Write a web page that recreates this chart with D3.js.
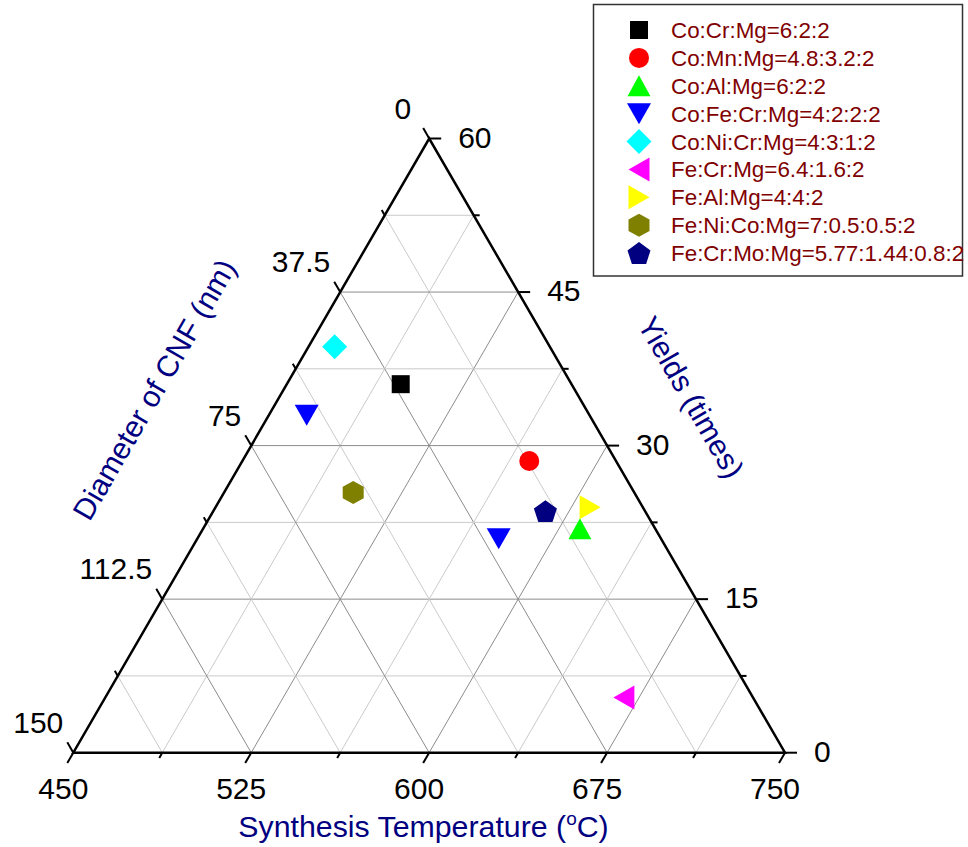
<!DOCTYPE html>
<html><head><meta charset="utf-8">
<script src="https://cdn.jsdelivr.net/npm/d3@7"></script>
<style>body{margin:0;background:#fff;} svg{display:block;font-family:"Liberation Sans",Arial,sans-serif;}</style>
</head><body>
<svg id="chart" width="968" height="847"></svg>
<script>
// ---------- data ----------
const seriesNames = ["Co:Cr:Mg=6:2:2","Co:Mn:Mg=4.8:3.2:2","Co:Al:Mg=6:2:2","Co:Fe:Cr:Mg=4:2:2:2",
  "Co:Ni:Cr:Mg=4:3:1:2","Fe:Cr:Mg=6.4:1.6:2","Fe:Al:Mg=4:4:2","Fe:Ni:Co:Mg=7:0.5:0.5:2","Fe:Cr:Mo:Mg=5.77:1.44:0.8:2"];
const seriesColors = ["#000000","#ff0000","#00ff00","#0000ff","#00ffff","#ff00ff","#ffff00","#808000","#000080"];
const seriesShapes = ["square","circle","triangleUp","triangleDown","diamond","triangleLeft","triangleRight","hexagon","pentagon"];
const pointSeries = [0,1,2,3,3,4,5,6,7,8];
const temperature = [498, 571, 609, 466, 577, 461, 668.5, 608, 504.4, 590];
const yields      = [36.0, 28.5, 21.9, 33.0, 20.9, 39.6, 5.4, 24.0, 25.4, 23.6];
const diameter    = [36.0, 18.3, 15.9, 59.7, 34.2, 45.3, 27.2, 11.1, 59.2, 21.0];
const tempTicks  = ["450","525","600","675","750"];
const yieldTicks = ["0","15","30","45","60"];
const diamTicks  = ["0","37.5","75","112.5","150"];

// ---------- layout ----------
const svg = d3.select("#chart");
const BL = [73.3, 752.7], BR = [785, 752.7], TP = [429.2, 138.5];
const tS = d3.scaleLinear().domain([450, 750]).range([0, 1]);
const yS = d3.scaleLinear().domain([0, 60]).range([0, 1]);
const dS = d3.scaleLinear().domain([0, 150]).range([0, 1]);
function proj(fx, fy, fz) {
  const s = fx + fy + fz; fx /= s; fy /= s; fz /= s;
  return [fx*BR[0] + fy*TP[0] + fz*BL[0], fx*BR[1] + fy*TP[1] + fz*BL[1]];
}
const fracs = d3.range(1, 8).map(i => i / 8);
const isMajor = f => Math.abs(f*4 - Math.round(f*4)) < 1e-9;

// grid
const grid = svg.append("g");
fracs.forEach(f => {
  const col = isMajor(f) ? "#8c8c8c" : "#cacaca";
  const segs = [
    [proj(0, f, 1-f), proj(1-f, f, 0)],   // constant yield
    [proj(f, 0, 1-f), proj(f, 1-f, 0)],   // constant temperature
    [proj(1-f, 0, f), proj(0, 1-f, f)]    // constant diameter
  ];
  segs.forEach(s => grid.append("line")
    .attr("x1", s[0][0]).attr("y1", s[0][1]).attr("x2", s[1][0]).attr("y2", s[1][1])
    .attr("stroke", col).attr("stroke-width", 1));
});

// ticks
const ticksG = svg.append("g").attr("stroke", "#000").attr("stroke-width", 2);
const tickFr = d3.range(0, 9).map(i => i / 8);
const c60 = Math.cos(Math.PI/3), s60 = Math.sin(Math.PI/3);
tickFr.forEach(f => {
  const len = isMajor(f) || f === 0 || f === 1 ? 12 : 6;
  let p = proj(f, 0, 1-f);
  ticksG.append("line").attr("x1", p[0]).attr("y1", p[1]).attr("x2", p[0]-c60*len).attr("y2", p[1]+s60*len);
  p = proj(1-f, f, 0);
  ticksG.append("line").attr("x1", p[0]).attr("y1", p[1]).attr("x2", p[0]+len).attr("y2", p[1]);
  p = proj(0, 1-f, f);
  ticksG.append("line").attr("x1", p[0]).attr("y1", p[1]).attr("x2", p[0]-c60*len).attr("y2", p[1]-s60*len);
});

// triangle frame
svg.append("path")
  .attr("d", d3.line()([BL, BR, TP]) + "Z")
  .attr("fill", "none").attr("stroke", "#000").attr("stroke-width", 2.5).attr("stroke-linejoin", "miter");

// tick labels
const lab = svg.append("g").attr("font-size", 30).attr("fill", "#000");
tempTicks.forEach(t => {
  const p = proj(tS(+t), 0, 1 - tS(+t));
  lab.append("text").attr("x", p[0] - 10).attr("y", p[1] + 46).attr("text-anchor", "middle").text(t);
});
yieldTicks.forEach(t => {
  const f = yS(+t);
  const p = proj(1 - f, f, 0);
  lab.append("text").attr("x", p[0] + 29).attr("y", p[1] + 9).attr("text-anchor", "start").text(t);
});
diamTicks.forEach(t => {
  const f = dS(+t);
  const p = proj(0, 1 - f, f);
  const dx = t === "0" ? -18 : -10;
  lab.append("text").attr("x", p[0] + dx).attr("y", p[1] - 20).attr("text-anchor", "end").text(t);
});

// axis titles
const navy = "#000080";
const bt = svg.append("text").attr("x", 423.5).attr("y", 837).attr("text-anchor", "middle")
  .attr("font-size", 30.3).attr("fill", navy);
bt.append("tspan").text("Synthesis Temperature (");
bt.append("tspan").attr("font-size", 19).attr("dy", -12).text("o");
bt.append("tspan").attr("dy", 12).text("C)");

const midR = [(BR[0]+TP[0])/2, (BR[1]+TP[1])/2];
const rT = [midR[0] + 97*s60, midR[1] - 97*c60];
svg.append("text").attr("transform", `translate(${rT[0]},${rT[1]}) rotate(60)`)
  .attr("text-anchor", "middle").attr("dy", "0.35em").attr("font-size", 30).attr("fill", navy).text("Yields (times)");
const midL = [(BL[0]+TP[0])/2, (BL[1]+TP[1])/2];
const lT = [midL[0] - 112*s60, midL[1] - 112*c60];
svg.append("text").attr("transform", `translate(${lT[0]},${lT[1]}) rotate(-60)`)
  .attr("text-anchor", "middle").attr("dy", "0.35em").attr("font-size", 30).attr("fill", navy).text("Diameter of CNF (nm)");

// symbols
function poly(pts) { return "M" + pts.map(p => p[0].toFixed(2) + "," + p[1].toFixed(2)).join("L") + "Z"; }
function symbolPath(shape) {
  switch (shape) {
    case "square": return poly([[-9,-9],[9,-9],[9,9],[-9,9]]);
    case "circle": return d3.arc()({innerRadius:0, outerRadius:10, startAngle:0, endAngle:2*Math.PI});
    case "triangleUp": return poly([[0,-10.5],[11.5,10.5],[-11.5,10.5]]);
    case "triangleDown": return poly([[-12,-10.5],[12,-10.5],[0,10.5]]);
    case "diamond": return poly([[0,-12.5],[12.5,0],[0,12.5],[-12.5,0]]);
    case "triangleLeft": return poly([[-10.5,0],[10.5,-12],[10.5,12]]);
    case "triangleRight": return poly([[10.5,0],[-10.5,-12],[-10.5,12]]);
    case "hexagon": return poly([[0,-11.5],[10.5,-5.75],[10.5,5.75],[0,11.5],[-10.5,5.75],[-10.5,-5.75]]);
    case "pentagon": {
      const R = 12.1;
      let pts = d3.range(5).map(k => { const a = -Math.PI/2 + k*2*Math.PI/5; return [R*Math.cos(a), R*Math.sin(a)]; });
      const my = (d3.min(pts, p => p[1]) + d3.max(pts, p => p[1])) / 2;
      pts = pts.map(p => [p[0], p[1] - my]);
      return poly(pts);
    }
  }
}

const pts = svg.append("g");
pointSeries.forEach((si, i) => {
  const p = proj(tS(temperature[i]), yS(yields[i]), dS(diameter[i]));
  pts.append("path").attr("d", symbolPath(seriesShapes[si]))
    .attr("transform", `translate(${p[0]},${p[1]})`).attr("fill", seriesColors[si]);
});

// legend
const lg = svg.append("g");
lg.append("rect").attr("x", 593.5).attr("y", 4.5).attr("width", 369).attr("height", 271.5)
  .attr("fill", "#fff").attr("stroke", "#333").attr("stroke-width", 1.5);
const rowY = d3.scaleLinear().domain([0, 8]).range([30, 253]);
seriesNames.forEach((n, i) => {
  const y = rowY(i);
  lg.append("path").attr("d", symbolPath(seriesShapes[i])).attr("transform", `translate(639,${y})`).attr("fill", seriesColors[i]);
  lg.append("text").attr("x", 671).attr("y", y + 8).attr("font-size", 22.4).attr("fill", "#800000").text(n);
});
</script>
</body></html>
